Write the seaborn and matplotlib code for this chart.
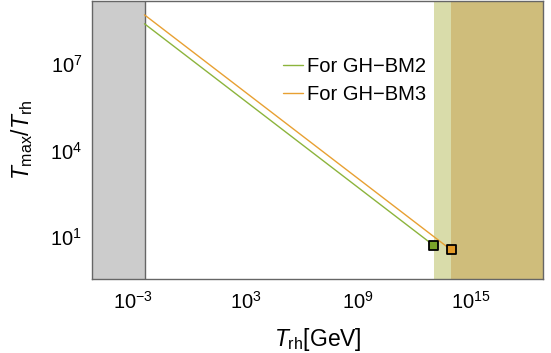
import numpy as np
import pandas as pd
import matplotlib
matplotlib.use("Agg")
import matplotlib.pyplot as plt
import seaborn as sns
from matplotlib.lines import Line2D

# ---- data ----
series_labels = ["For GH\u2212BM2", "For GH\u2212BM3"]
trh_bm2 = [4e-3, 1.1e13]
ratio_bm2 = [2.5e8, 4.9]
trh_bm3 = [4e-3, 9.0e13]
ratio_bm3 = [5.1e8, 3.5]
endpoint_trh = [1.1e13, 9.0e13]
endpoint_ratio = [4.9, 3.5]
bbn_limit = 4e-3
xticks = [1e-3, 1e3, 1e9, 1e15]
xtick_labels = [r"$\mathregular{10^{-3}}$", r"$\mathregular{10^{3}}$",
                r"$\mathregular{10^{9}}$", r"$\mathregular{10^{15}}$"]
yticks = [1e1, 1e4, 1e7]
ytick_labels = [r"$\mathregular{10^{1}}$", r"$\mathregular{10^{4}}$",
                r"$\mathregular{10^{7}}$"]

green = "#8cb43c"
orange = "#e8a032"

sns.set_theme(style="white")
plt.rcParams["font.family"] = ["Liberation Sans", "DejaVu Sans"]
plt.rcParams["mathtext.fontset"] = "custom"
plt.rcParams["mathtext.rm"] = "Liberation Sans"
plt.rcParams["mathtext.it"] = "Liberation Sans:italic"
plt.rcParams["mathtext.bf"] = "Liberation Sans:bold"
plt.rcParams["text.color"] = "black"
plt.rcParams["axes.labelcolor"] = "black"

df = pd.DataFrame({
    "trh": trh_bm2 + trh_bm3,
    "ratio": ratio_bm2 + ratio_bm3,
    "series": [series_labels[0]] * len(trh_bm2) + [series_labels[1]] * len(trh_bm3),
})
dfp = pd.DataFrame({"trh": endpoint_trh, "ratio": endpoint_ratio, "series": series_labels})

fig = plt.figure(figsize=(5.51, 3.53), dpi=100)
ax = fig.add_axes([92 / 551, 1 - 279.3 / 353, 451 / 551, 278.3 / 353])
ax.set_xscale("log")
ax.set_yscale("log")
xlo, xhi = 10 ** -5.2, 10 ** 18.86
ax.set_xlim(xlo, xhi)
ax.set_ylim(10 ** -0.48, 10 ** 9.19)

ax.axvspan(xlo, bbn_limit, color="#cccccc", lw=0, zorder=0)
ax.axvline(bbn_limit, color="#666666", lw=1.0, zorder=1)
ax.axvspan(endpoint_trh[0], xhi, color="#d9dcaa", lw=0, zorder=0)
ax.axvspan(endpoint_trh[1], xhi, color="#cfbd7b", lw=0, zorder=0)

pal = {series_labels[0]: green, series_labels[1]: orange}
sns.lineplot(data=df, x="trh", y="ratio", hue="series", palette=pal, lw=1.0,
             ax=ax, legend=False, zorder=3)
sns.scatterplot(data=dfp, x="trh", y="ratio", hue="series",
                palette={series_labels[0]: "#7aa42a", series_labels[1]: "#e39a28"},
                marker="s", s=42, edgecolor="black", linewidth=1.3,
                ax=ax, legend=False, zorder=4)

ax.set_xticks(xticks)
ax.set_xticklabels(xtick_labels)
ax.set_yticks(yticks)
ax.set_yticklabels(ytick_labels)
ax.xaxis.set_minor_locator(matplotlib.ticker.NullLocator())
ax.yaxis.set_minor_locator(matplotlib.ticker.NullLocator())
ax.tick_params(axis="both", which="major", direction="in", length=3, width=0.8,
               color="#888888", labelsize=14.5, pad=7, labelcolor="black")
ax.tick_params(axis="x", pad=8)

for sp in ax.spines.values():
    sp.set_color("#666666")
    sp.set_linewidth(1.0)

ax.set_xlabel(r"$T_{\mathrm{rh}}$[GeV]", fontsize=16.5, labelpad=10)
ax.set_ylabel(r"$T_{\mathrm{max}}/T_{\mathrm{rh}}$", fontsize=16.5, labelpad=11)

handles = [Line2D([], [], color=green, lw=1.0), Line2D([], [], color=orange, lw=1.0)]
ax.legend(handles, series_labels, frameon=False, loc="upper left",
          bbox_to_anchor=(0.4235, 0.80), borderaxespad=0, borderpad=0,
          handlelength=1.0, handletextpad=0.2, labelspacing=0.48, fontsize=14.5)

fig.savefig("out.png", dpi=100)
